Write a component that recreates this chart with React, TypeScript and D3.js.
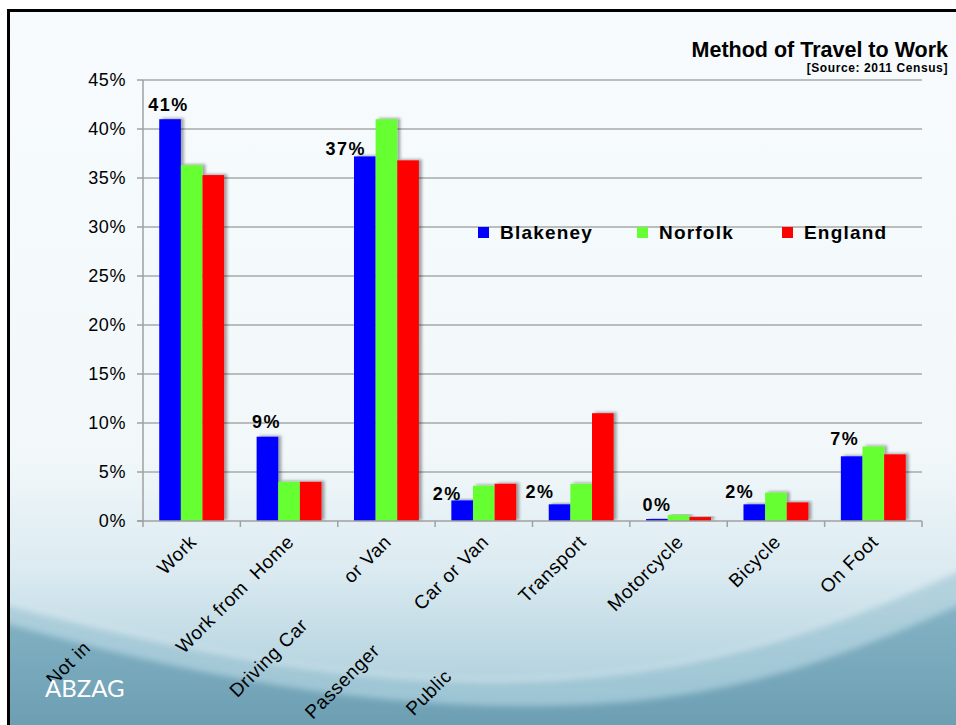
import React from "react";
import * as d3 from "d3";

// ---- data ----
const categories: string[][] = [
  ["Not in", "Work"],
  ["Work from  Home"],
  ["Driving Car", "or Van"],
  ["Passenger", "Car or Van"],
  ["Public", "Transport"],
  ["Motorcycle"],
  ["Bicycle"],
  ["On Foot"],
];
const seriesNames = ["Blakeney", "Norfolk", "England"];
const blakeney = [41.0, 8.6, 37.2, 2.1, 1.7, 0.2, 1.7, 6.6];
const norfolk = [36.3, 4.0, 41.0, 3.6, 3.8, 0.6, 2.9, 7.6];
const england = [35.3, 4.0, 36.8, 3.8, 11.0, 0.4, 1.9, 6.8];
const yTicks = [0, 5, 10, 15, 20, 25, 30, 35, 40, 45];
const title = "Method of Travel to Work";
const subtitle = "[Source: 2011 Census]";

// ---- layout / style ----
const W = 956;
const H = 725;
const colors = ["#0000ff", "#66ff33", "#ff0000"];
const FONT = "'Liberation Sans', Arial, sans-serif";
const firstLineShift = [150, 0, 118, 154, 190, 0, 0, 0];
const labelDx = [-1.5, -1, -19, -15, -19.5, 0, -14.5, -7];
const labelGap = [15, 15.3, 8, 7, 13, 15, 13, 17.4];
const legendX = [478, 637, 782];

export default function App() {
  const seriesData = [blakeney, norfolk, england];
  const x = d3
    .scaleBand<number>()
    .domain(categories.map((_, i) => i))
    .range([143, 922])
    .padding(0);
  const xs = d3
    .scaleBand<number>()
    .domain(seriesNames.map((_, i) => i))
    .range([0, x.bandwidth()])
    .paddingInner(0)
    .paddingOuter(0.75);
  const y = d3.scaleLinear().domain([0, 45]).range([521, 80]);
  const fmt = d3.format(".0f");
  const boundaries = d3.range(categories.length + 1).map((i) =>
    i < categories.length ? (x(i) as number) : (x(categories.length - 1) as number) + x.bandwidth()
  );

  return (
    <svg
      width={W}
      height={H}
      style={{ position: "absolute", left: 0, top: 0, display: "block" }}
      fontFamily={FONT}
    >
      <defs>
        <linearGradient id="bg" x1="0" y1="0" x2="0" y2="1">
          <stop offset="0" stopColor="#f7fbfd" />
          <stop offset="0.62" stopColor="#f2f8fa" />
          <stop offset="0.78" stopColor="#dcebf1" />
          <stop offset="0.9" stopColor="#bcd8e3" />
          <stop offset="1" stopColor="#a6cad8" />
        </linearGradient>
        <linearGradient id="mid" x1="0" y1="0" x2="0" y2="1">
          <stop offset="0" stopColor="#a9ccd9" />
          <stop offset="1" stopColor="#8fbccd" />
        </linearGradient>
        <linearGradient id="dark" x1="0" y1="0" x2="0" y2="1">
          <stop offset="0" stopColor="#86b4c6" />
          <stop offset="1" stopColor="#6699ae" />
        </linearGradient>
        <filter id="soft" x="-5%" y="-20%" width="110%" height="140%">
          <feGaussianBlur stdDeviation="3" />
        </filter>
        <filter id="shadow" x="-30%" y="-10%" width="160%" height="120%">
          <feDropShadow dx="3" dy="-1" stdDeviation="1.8" floodColor="#000" floodOpacity="0.35" />
        </filter>
        <clipPath id="slide">
          <rect x={8} y={10} width={W - 8} height={H - 10} />
        </clipPath>
      </defs>

      {/* background */}
      <rect x={0} y={0} width={W} height={H} fill="#ffffff" />
      <g clipPath="url(#slide)">
        <rect x={8} y={10} width={W - 8} height={H - 10} fill="url(#bg)" />
        <path
          d="M-20,596 C200,655 380,690 560,678 C720,668 850,620 980,560 L980,760 L-20,760 Z"
          fill="url(#mid)"
          opacity={0.7}
          filter="url(#soft)"
        />
        <path
          d="M-20,616 C200,680 400,716 600,704 C760,694 870,645 980,596 L980,760 L-20,760 Z"
          fill="url(#dark)"
          filter="url(#soft)"
        />
        <path
          d="M-20,596 C200,655 380,690 560,678 C720,668 850,620 980,560"
          fill="none"
          stroke="#ffffff"
          strokeOpacity={0.45}
          strokeWidth={3}
          filter="url(#soft)"
        />
      </g>
      <rect x={7} y={9} width={W - 7} height={3} fill="#000" />
      <rect x={7} y={9} width={3} height={H - 9} fill="#000" />

      {/* title */}
      <text x={948} y={56.5} textAnchor="end" fontSize={21.5} fontWeight="bold" fill="#000">
        {title}
      </text>
      <text
        x={948}
        y={71.5}
        textAnchor="end"
        fontSize={12}
        fontWeight="bold"
        letterSpacing={0.6}
        fill="#000"
      >
        {subtitle}
      </text>

      {/* gridlines */}
      {yTicks.map((t) => (
        <g key={t}>
          {t > 0 && (
            <line x1={143} x2={922} y1={y(t)} y2={y(t)} stroke="#a8a8a8" strokeWidth={1.5} />
          )}
          <line x1={137} x2={143} y1={y(t)} y2={y(t)} stroke="#a0a0a0" strokeWidth={1.5} />
          <text
            x={126}
            y={y(t) + 6}
            textAnchor="end"
            fontSize={18}
            letterSpacing={0.6}
            fill="#000"
          >
            {t + "%"}
          </text>
        </g>
      ))}

      {/* bars */}
      {categories.map((_, ci) => (
        <g key={ci} transform={`translate(${x(ci)},0)`}>
          {seriesData.map((s, si) => (
            <rect
              key={si}
              x={xs(si)}
              y={y(s[ci])}
              width={xs.bandwidth()}
              height={y(0) - y(s[ci])}
              fill={colors[si]}
              filter="url(#shadow)"
            />
          ))}
        </g>
      ))}

      {/* axes */}
      <line x1={143} x2={143} y1={y(45)} y2={y(0)} stroke="#a0a0a0" strokeWidth={1.5} />
      <line x1={137} x2={922} y1={y(0)} y2={y(0)} stroke="#a0a0a0" strokeWidth={1.5} />
      {boundaries.map((b, i) => (
        <line key={i} x1={b} x2={b} y1={y(0)} y2={y(0) + 6} stroke="#a0a0a0" strokeWidth={1.5} />
      ))}

      {/* data labels (Blakeney) */}
      {blakeney.map((v, ci) => {
        const cx = (x(ci) as number) + (xs(0) as number) + xs.bandwidth() / 2 + labelDx[ci];
        return (
          <text
            key={ci}
            x={cx}
            y={y(v) - labelGap[ci] + 6.5}
            textAnchor="middle"
            fontSize={18}
            fontWeight="bold"
            letterSpacing={1.5}
            fill="#000"
          >
            {fmt(v) + "%"}
          </text>
        );
      })}

      {/* category labels */}
      {categories.map((lines, ci) => {
        const ax = (x(ci) as number) + x.bandwidth() / 2 + 6;
        const ay = 543;
        const n = lines.length;
        return (
          <g key={ci} transform={`translate(${ax},${ay}) rotate(-45)`}>
            {lines.map((ln, li) => (
              <text
                key={li}
                x={li === n - 1 ? 0 : -firstLineShift[ci]}
                y={0}
                textAnchor="end"
                fontSize={19}
                letterSpacing={0.6}
                fill="#000"
                style={{ whiteSpace: "pre" }}
              >
                {ln}
              </text>
            ))}
          </g>
        );
      })}

      {/* legend */}
      {seriesNames.map((name, si) => (
        <g key={name}>
          <rect x={legendX[si]} y={227} width={11} height={11} fill={colors[si]} />
          <text
            x={legendX[si] + 22}
            y={239}
            fontSize={19}
            fontWeight="bold"
            letterSpacing={1.2}
            fill="#000"
          >
            {name}
          </text>
        </g>
      ))}

      {/* logo */}
      <text x={45} y={697} fontSize={24} fontFamily="Lato, 'Open Sans', sans-serif" fill="#ffffff">
        ABZAG
      </text>
    </svg>
  );
}
